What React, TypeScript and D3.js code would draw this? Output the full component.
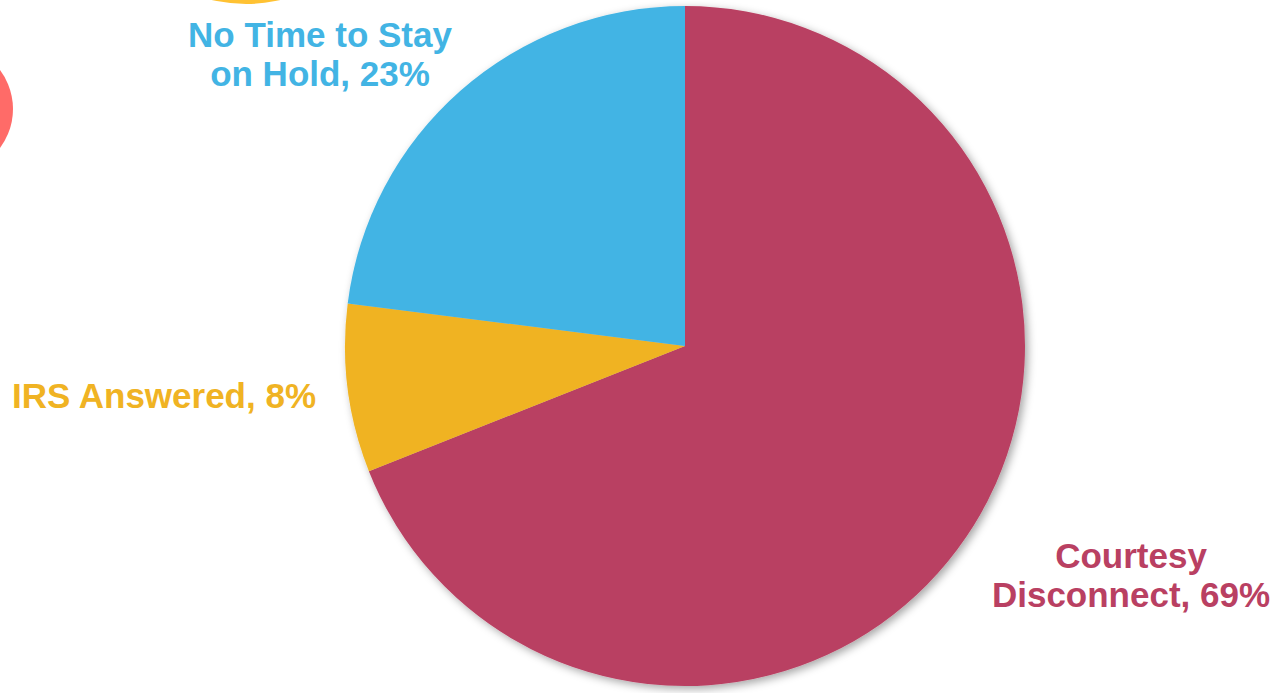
import React from "react";
import * as d3 from "d3";

const categories = ["Courtesy Disconnect", "IRS Answered", "No Time to Stay on Hold"];
const values = [69, 8, 23];
const colors = ["#B94062", "#F0B323", "#42B4E4"];
const labelLines = [
  ["Courtesy", "Disconnect, 69%"],
  ["IRS Answered, 8%"],
  ["No Time to Stay", "on Hold, 23%"],
];

const W = 1287;
const H = 693;
const cx = 685;
const cy = 346;
const R = 340;

// label anchor positions (center x, first baseline y)
const labelPos: [number, number][] = [
  [1131, 568],
  [164, 408],
  [320, 47],
];

export default function App() {
  const pie = d3.pie<number>().sort(null).value((d) => d);
  const arcs = pie(values);
  const arcGen = d3.arc<d3.PieArcDatum<number>>().innerRadius(0).outerRadius(R);

  return (
    <div style={{ position: "fixed", left: 0, top: 0, width: W, height: H, background: "#fff" }}>
      <svg width={W} height={H} style={{ display: "block" }}>
        <defs>
          <filter id="shadow" x="-10%" y="-10%" width="120%" height="120%">
            <feDropShadow dx="3" dy="3" stdDeviation="4" floodColor="#000" floodOpacity="0.35" />
          </filter>
        </defs>
        <circle cx={246} cy={-146} r={150} fill="#FFC233" />
        <circle cx={-52} cy={109} r={65} fill="#FF6B68" />
        <g transform={`translate(${cx},${cy})`} filter="url(#shadow)">
          {arcs.map((a, i) => (
            <path key={categories[i]} d={arcGen(a) || ""} fill={colors[i]} />
          ))}
        </g>
        {labelLines.map((lines, i) => (
          <text
            key={categories[i]}
            x={labelPos[i][0]}
            y={labelPos[i][1]}
            textAnchor="middle"
            fill={colors[i]}
            style={{ fontFamily: "Arial, 'Liberation Sans', sans-serif", fontWeight: 700, fontSize: "35px" }}
          >
            {lines.map((l, j) => (
              <tspan key={j} x={labelPos[i][0]} dy={j === 0 ? 0 : 39}>
                {l}
              </tspan>
            ))}
          </text>
        ))}
      </svg>
    </div>
  );
}
